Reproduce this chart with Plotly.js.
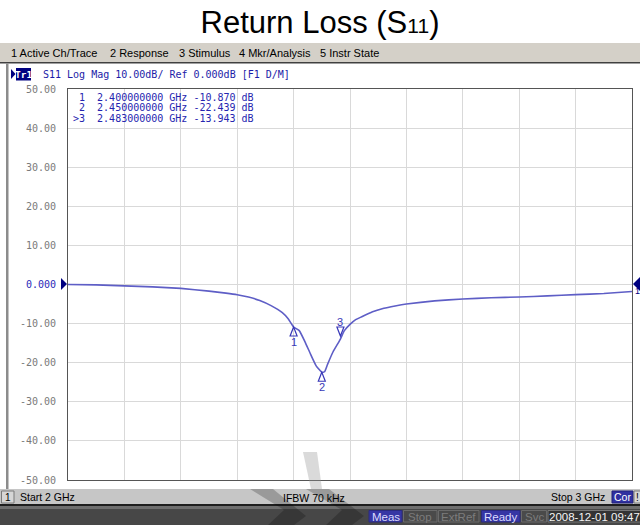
<!DOCTYPE html>
<html>
<head>
<meta charset="utf-8">
<script src="https://cdn.plot.ly/plotly-3.0.1.min.js"></script>
<style>html,body{margin:0;padding:0;background:#fff;}#chart{width:640px;height:525px;}</style>
</head>
<body>
<div id="chart"></div>
<script>
// ---- data ----
const freqGHz = [2.00, 2.05, 2.10, 2.15, 2.20, 2.25, 2.28, 2.30, 2.32, 2.34, 2.36, 2.38, 2.39, 2.40, 2.41, 2.42, 2.43, 2.44, 2.45, 2.455, 2.46, 2.47, 2.483, 2.49, 2.50, 2.51, 2.52, 2.54, 2.56, 2.58, 2.60, 2.65, 2.70, 2.75, 2.80, 2.85, 2.90, 2.95, 3.00];
const s11dB   = [0.0, -0.1, -0.35, -0.6, -1.0, -1.7, -2.2, -2.6, -3.2, -4.1, -5.4, -7.2, -8.7, -10.87, -11.8, -14.6, -17.8, -20.8, -22.439, -22.3, -20.5, -17.2, -13.943, -11.8, -10.2, -9.0, -8.3, -7.0, -6.1, -5.5, -5.0, -4.2, -3.7, -3.4, -3.2, -2.9, -2.6, -2.3, -1.8];

const markerNames = ['1', '2', '3'];
const markerFreq  = [2.400, 2.450, 2.483];
const markerVal   = [-10.870, -22.439, -13.943];
const activeMarker = 2;

const yTickVals = [50, 40, 30, 20, 10, 0, -10, -20, -30, -40, -50];
const yTickText = ['50.00', '40.00', '30.00', '20.00', '10.00', '0.000', '-10.00', '-20.00', '-30.00', '-40.00', '-50.00'];

const menuItems  = ['1 Active Ch/Trace', '2 Response', '3 Stimulus', '4 Mkr/Analysis', '5 Instr State'];
const headerText = 'S11 Log Mag 10.00dB/ Ref 0.000dB [F1 D/M]';
const startText = 'Start 2 GHz', ifbwText = 'IFBW 70 kHz', stopText = 'Stop 3 GHz';
const statusItems = ['Meas', 'Stop', 'ExtRef', 'Ready', 'Svc'];
const statusOn    = [true, false, false, true, false];
const dateText = '2008-12-01 09:47';

// ---- geometry helpers (pixel -> paper) ----
const W = 640, H = 525, ML = 68, MR = 8, MT = 89, MB = 45;
const PW = W - ML - MR, PH = H - MT - MB;
const X = px => (px - ML) / PW;
const Y = py => 1 - (py - MT) / PH;
const NB = s => s.replace(/ /g, '\u00A0');

const shapes = [];
const ann = [];
function rect(x0, y0, x1, y1, fill, line) {
  shapes.push({type: 'rect', xref: 'paper', yref: 'paper', x0: X(x0), x1: X(x1), y0: Y(y1), y1: Y(y0),
    fillcolor: fill, line: {width: line ? 1 : 0, color: line || fill}, layer: 'above'});
}
function poly(pts, fill) {
  const d = pts.map((p, i) => (i ? 'L' : 'M') + X(p[0]) + ',' + Y(p[1])).join(' ') + ' Z';
  shapes.push({type: 'path', xref: 'paper', yref: 'paper', path: d, fillcolor: fill, line: {width: 0}, layer: 'above'});
}
function text(px, py, s, size, color, family, anchor, extra) {
  ann.push(Object.assign({xref: 'paper', yref: 'paper', x: X(px), y: Y(py), text: s, showarrow: false,
    xanchor: anchor || 'left', yanchor: 'middle', borderpad: 0,
    font: {size: size, color: color, family: family}}, extra || {}));
}
const SANS = 'Liberation Sans, Arial, sans-serif';
const MONO = 'DejaVu Sans Mono, monospace';

// menu bar
rect(0, 43, 640, 62, '#d4d0c8');
rect(0, 62, 640, 63.5, '#404040');
const menuX = [10, 109, 178, 238, 319];
menuItems.forEach((m, i) => text(menuX[i], 53, m, 11, '#000', SANS));

// left panel border
rect(6, 63.5, 8.5, 489, '#8c8c8c');

// trace header
poly([[11, 69], [15.5, 74], [11, 79]], '#000080');
rect(16, 68, 31, 80.5, '#000080');
text(23.5, 74.5, 'Tr1', 9.5, '#ffffff', MONO, 'center', {font: {size: 9.5, color: '#fff', family: MONO, weight: 'bold'}});
text(42, 74.5, NB(headerText), 10, '#1c1ca8', MONO);

// marker table
markerNames.forEach((n, i) => {
  const lab = (i === activeMarker ? '>' : ' ') + n;
  const s = lab + '  ' + markerFreq[i].toFixed(9) + ' GHz ' + markerVal[i].toFixed(3) + ' dB';
  text(72, 98 + i * 10, NB(s), 10, '#2525b0', MONO);
});

// watermark in plot
poly([[303, 452], [317, 452], [322, 489], [311, 489]], 'rgba(150,150,150,0.35)');

// status bar
rect(0, 489, 640, 504, '#c6c6c6');
rect(0, 504, 640, 506, '#1e1e1e');
rect(0, 506, 640, 509, '#6e6e6e');
rect(0, 509, 640, 525, '#474747');
// watermark chevrons over bars
poly([[250, 489], [273, 489], [306, 516], [294, 525], [268, 525], [284, 510]], 'rgba(0,0,0,0.22)');
poly([[306, 489], [329, 489], [364, 516], [352, 525], [326, 525], [342, 510]], 'rgba(0,0,0,0.22)');

rect(1.5, 491, 14, 503, '#d6d6d6', '#7a7a7a');
text(7.75, 497, '1', 10, '#000', SANS, 'center');
text(19, 497, startText, 10.5, '#000', SANS);
text(314, 497.5, ifbwText, 10.5, '#000', SANS, 'center');
text(606, 497, stopText, 10.5, '#000', SANS, 'right');
rect(612, 491, 633, 503, '#3030a0', '#20207a');
text(622.5, 497, 'Cor', 10.5, '#ffffff', SANS, 'center');
rect(634, 491, 641, 503, '#d6d6d6', '#7a7a7a');
text(635, 497, '!', 10, '#000', SANS, 'left');

// bottom status boxes
const boxX = [[369, 402], [403.5, 437], [438.5, 479], [481.5, 520], [521.5, 546.5]];
statusItems.forEach((s, i) => {
  const on = statusOn[i];
  rect(boxX[i][0], 510.5, boxX[i][1], 522, on ? '#3636a4' : '#4a4a4a', on ? '#2a2a80' : '#6a6a6a');
  text((boxX[i][0] + boxX[i][1]) / 2, 516.5, s, 11.5, on ? '#dcdcff' : '#7c7c7c', SANS, 'center');
});
rect(548, 510.5, 641, 522, '#333333', '#777777');
text(594, 516.5, dateText, 11.5, '#f4f4f4', SANS, 'center');

// reference arrows at 0 dB
poly([[61, 278], [61, 290], [67, 284]], '#000080');
poly([[640, 277], [640, 291], [633, 284]], '#000080');
text(634, 291, '1', 9, '#000080', SANS, 'left');

// markers on trace (pixel sized, anchored to data)
markerFreq.forEach((f, i) => {
  const active = i === activeMarker;
  const path = active ? 'M-3.5,12 L3.5,12 L0,3 Z' : 'M0,0 L3.5,-9 L-3.5,-9 Z';
  shapes.push({type: 'path', xref: 'x', yref: 'y', xsizemode: 'pixel', ysizemode: 'pixel',
    xanchor: f, yanchor: markerVal[i], path: path, fillcolor: 'rgba(0,0,0,0)',
    line: {color: '#3838b8', width: 1.2}, layer: 'above'});
  ann.push({xref: 'x', yref: 'y', x: f, y: markerVal[i], text: markerNames[i], showarrow: false,
    yshift: active ? 17 : -15, xanchor: 'center', yanchor: 'middle',
    font: {size: 11, color: '#3838b8', family: SANS}});
  // triangles under the graticule
  shapes.push({type: 'path', xref: 'x', yref: 'y', xsizemode: 'pixel', ysizemode: 'pixel',
    xanchor: f, yanchor: -50, path: 'M0,-1 L6.5,-6.5 L-6.5,-6.5 Z',
    fillcolor: active ? '#000090' : '#ffffff', line: {color: active ? '#000090' : '#3030b0', width: 1}, layer: 'above'});
});

const traces = [{
  x: freqGHz, y: s11dB, type: 'scatter', mode: 'lines',
  line: {color: '#5e5ec6', width: 1.6, shape: 'spline', smoothing: 0.4},
  hoverinfo: 'skip', cliponaxis: true
}];

const layout = {
  width: W, height: H, autosize: false,
  margin: {l: ML, r: MR, t: MT, b: MB, pad: 0},
  paper_bgcolor: '#ffffff', plot_bgcolor: '#ffffff',
  showlegend: false,
  title: {text: 'Return Loss (S<span style="font-size:21px">11</span>)', xref: 'container', x: 0.5, xanchor: 'center',
    yref: 'container', y: 1 - 22 / H, yanchor: 'middle',
    font: {family: SANS, size: 31, color: '#000000'}},
  xaxis: {range: [2, 3], dtick: 0.1, tick0: 2, showticklabels: false, showgrid: true,
    gridcolor: '#d9d9d9', gridwidth: 1, zeroline: false, showline: true, mirror: true,
    linecolor: '#555555', linewidth: 1, ticks: '', fixedrange: true},
  yaxis: {range: [-50, 50], tickmode: 'array', tickvals: yTickVals,
    ticktext: yTickText.map((t, i) => yTickVals[i] === 0 ? '<span style="color:#2a2ab8">' + t + '</span>' : t),
    tickfont: {family: MONO, size: 10, color: '#7a7a7a'},
    showgrid: true, gridcolor: '#d9d9d9', gridwidth: 1, zeroline: false,
    showline: true, mirror: true, linecolor: '#555555', linewidth: 1,
    ticks: 'outside', ticklen: 9, tickcolor: 'rgba(0,0,0,0)', fixedrange: true},
  shapes: shapes,
  annotations: ann
};

Plotly.newPlot('chart', traces, layout, {displayModeBar: false, staticPlot: true});
</script>
</body>
</html>
